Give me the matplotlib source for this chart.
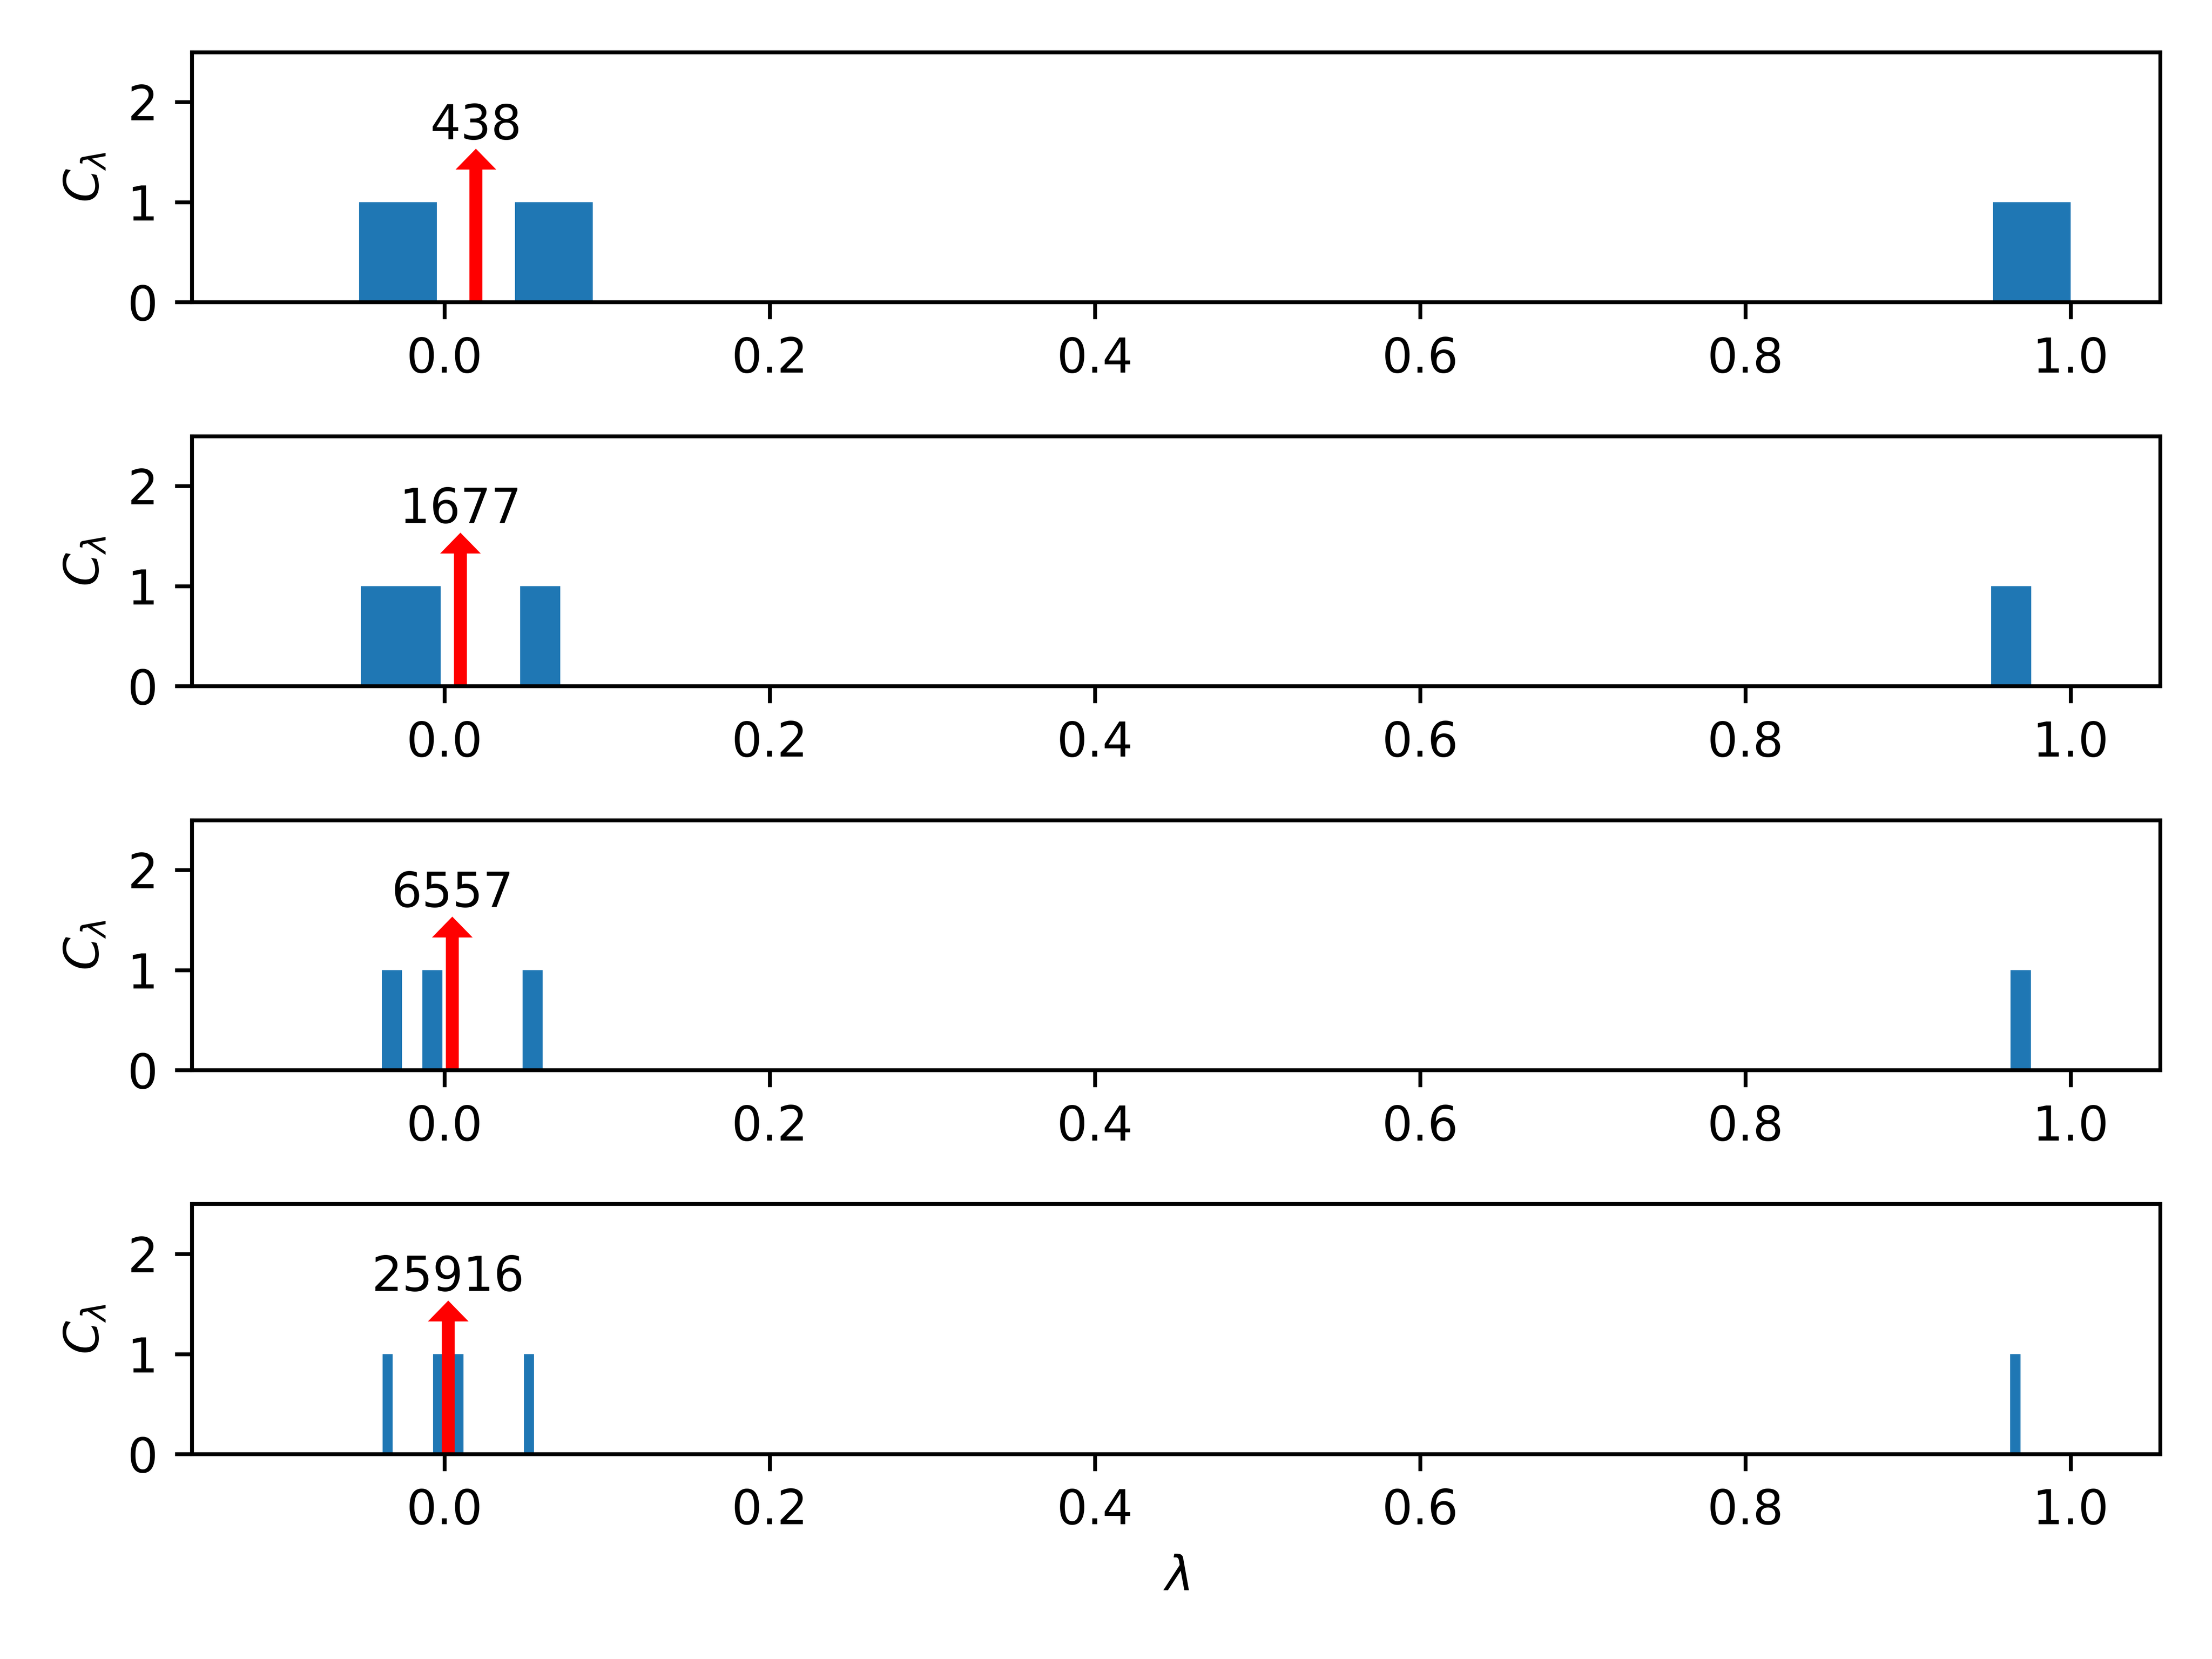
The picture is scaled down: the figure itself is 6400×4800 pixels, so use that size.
import matplotlib
matplotlib.use("Agg")
import matplotlib.pyplot as plt

# Histogram of eigenvalues for four problem sizes
sizes = [438, 1677, 6557, 25916]

# left edges of the non-empty bins, one list per panel
bin_lefts = [
    [-0.0525, 0.0434, 0.952],
    [-0.0514, -0.0269, 0.0466, 0.9511],
    [-0.0385, -0.0136, 0.048, 0.963],
    [-0.0380, -0.0070, -0.0008, 0.0054, 0.0489, 0.9628],
]
bin_widths = [0.0478, 0.0245, 0.0124, 0.0062]
bin_counts = [
    [1, 1, 1],
    [1, 1, 1, 1],
    [1, 1, 1, 1],
    [1, 1, 1, 1, 1, 1],
]

# position of the red arrow (smallest eigenvalue)
arrow_x = [0.0193, 0.0098, 0.0048, 0.0023]

fig, axes = plt.subplots(4, 1, figsize=(6.4, 4.8), dpi=1000)
fig.subplots_adjust(left=0.0867, right=0.9766, top=0.9686, bottom=0.1235, hspace=0.535)

for i, ax in enumerate(axes):
    ax.bar(bin_lefts[i], bin_counts[i], width=bin_widths[i], align="edge", color="#1f77b4")
    ax.arrow(arrow_x[i], 0, 0, 1.5, width=0.005, head_width=0.018, head_length=0.15,
             length_includes_head=True, color="red")
    ax.text(arrow_x[i], 1.63, str(sizes[i]), ha="center", fontsize=10)
    ax.set_xlim(-0.1554, 1.055)
    ax.set_ylim(0, 2.5)
    ax.set_yticks([0, 1, 2])
    ax.set_xticks([0.0, 0.2, 0.4, 0.6, 0.8, 1.0])
    ax.set_ylabel(r"$C_\lambda$")

axes[-1].set_xlabel(r"$\lambda$")

fig.savefig("out.png", dpi=1000)
